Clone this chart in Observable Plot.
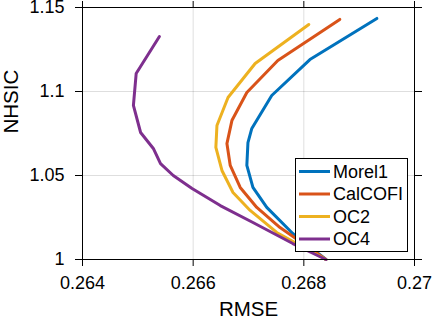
<!DOCTYPE html>
<html><head><meta charset="utf-8">
<script src="https://cdn.jsdelivr.net/npm/d3@7"></script>
<script src="https://cdn.jsdelivr.net/npm/@observablehq/plot@0.6"></script>
<style>
html,body{margin:0;padding:0;background:#fff;}
#chart{position:relative;width:436px;height:319px;}
#chart svg{overflow:visible;}
</style></head><body><div id="chart"></div>
<script>
const seriesNames = ["Morel1", "CalCOFI", "OC2", "OC4"];
const seriesColors = ["#0072BD", "#D95319", "#EDB120", "#7E2F8E"];

const morel1X = [0.2684, 0.26780, 0.26733, 0.26708, 0.26697, 0.26699, 0.26706, 0.26742, 0.26811, 0.26932];
const morel1Y = [1.000, 1.0155, 1.0310, 1.0429, 1.0560, 1.0696, 1.0780, 1.0976, 1.1190, 1.1435];

const calcofiX = [0.2684, 0.26757, 0.26715, 0.26685, 0.26667, 0.26661, 0.26670, 0.26697, 0.26753, 0.26865];
const calcofiY = [1.000, 1.0190, 1.0310, 1.0429, 1.0560, 1.0690, 1.0827, 1.0994, 1.1185, 1.1429];

const oc2X = [0.2684, 0.26751, 0.26703, 0.26672, 0.26652, 0.26641, 0.26643, 0.26663, 0.26712, 0.26809];
const oc2Y = [1.000, 1.0161, 1.0292, 1.0399, 1.0530, 1.0667, 1.0798, 1.0964, 1.1167, 1.1399];

const oc4X = [0.2684, 0.26780, 0.26708, 0.26649, 0.26598, 0.26564, 0.26541, 0.26528, 0.26505, 0.26492, 0.26497, 0.26539];
const oc4Y = [1.000, 1.0095, 1.0220, 1.0321, 1.0423, 1.0500, 1.0571, 1.0661, 1.0756, 1.0917, 1.1107, 1.1327];

const xTicks = [0.264, 0.266, 0.268, 0.27];
const yTicks = [1, 1.05, 1.1, 1.15];
const xLabel = "RMSE";
const yLabel = "NHSIC";

const allX = [morel1X, calcofiX, oc2X, oc4X];
const allY = [morel1Y, calcofiY, oc2Y, oc4Y];
const data = [];
seriesNames.forEach((s, i) => {
  allX[i].forEach((x, j) => data.push({series: s, x, y: allY[i][j]}));
});

const fmt = d => String(+d.toFixed(3));
const font = "'Liberation Sans', Arial, Helvetica, sans-serif";

const chart = Plot.plot({
  width: 436,
  height: 319,
  marginLeft: 82,
  marginRight: 22,
  marginTop: 7,
  marginBottom: 60,
  style: {fontFamily: font, fontSize: "18px", color: "#000", background: "#fff", overflow: "visible"},
  x: {domain: [0.264, 0.27]},
  y: {domain: [1, 1.15]},
  color: {domain: seriesNames, range: seriesColors},
  marks: [
    Plot.gridX(xTicks, {stroke: "#000", strokeOpacity: 0.13, strokeWidth: 1}),
    Plot.gridY(yTicks, {stroke: "#000", strokeOpacity: 0.13, strokeWidth: 1}),
    Plot.line(data, {x: "x", y: "y", z: "series", stroke: "series", strokeWidth: 3, strokeLinejoin: "round"}),
    Plot.frame({stroke: "#000", strokeWidth: 1}),
    Plot.axisX(xTicks, {anchor: "bottom", tickSize: 7, tickPadding: 10, tickFormat: fmt, label: null, fontSize: 18}),
    Plot.axisX(xTicks, {anchor: "top", tickSize: 7, tickFormat: () => "", label: null}),
    Plot.axisY(yTicks, {anchor: "left", tickSize: 7, tickPadding: 11, tickFormat: fmt, label: null, fontSize: 18}),
    Plot.axisY(yTicks, {anchor: "right", tickSize: 7, tickFormat: () => "", label: null}),
    Plot.text([xLabel], {text: d => d, frameAnchor: "bottom", dy: 50, lineAnchor: "middle", fontSize: 20.5}),
    Plot.text([yLabel], {text: d => d, frameAnchor: "left", dx: -71, rotate: -90, lineAnchor: "middle", fontSize: 20.5})
  ]
});

document.getElementById("chart").appendChild(chart);

// Legend drawn inside the SVG (on top of the lines)
const svg = d3.select(chart);
const lg = svg.append("g").attr("font-family", font).attr("font-size", 18).attr("text-anchor", "start");
lg.append("rect").attr("x", 295.5).attr("y", 158.5).attr("width", 112).attr("height", 93)
  .attr("fill", "#fff").attr("stroke", "#000").attr("stroke-width", 1);
seriesNames.forEach((s, i) => {
  const yy = 171.5 + i * 22.5;
  lg.append("line").attr("x1", 299).attr("x2", 330).attr("y1", yy).attr("y2", yy)
    .attr("stroke", seriesColors[i]).attr("stroke-width", 3);
  lg.append("text").attr("x", 333).attr("y", yy).attr("dy", "0.35em").attr("fill", "#000")
    .attr("text-anchor", "start").text(s);
});
</script>
</body></html>
